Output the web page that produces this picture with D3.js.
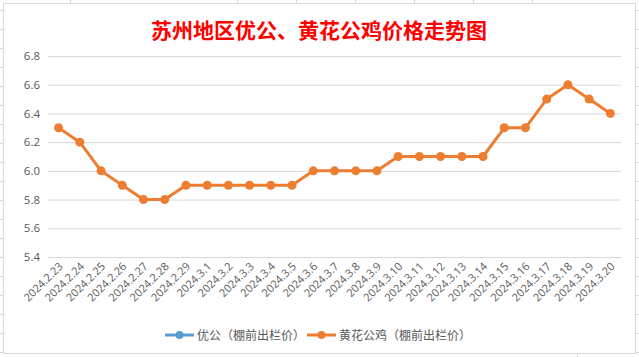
<!DOCTYPE html>
<html><head><meta charset="utf-8">
<script src="https://cdn.jsdelivr.net/npm/d3@7"></script>
<style>body{margin:0;background:#fff}svg{display:block}</style>
</head><body>
<svg id="c" width="639" height="357"></svg>
<script>
const title = "苏州地区优公、黄花公鸡价格走势图";
const categories = ["2024.2.23","2024.2.24","2024.2.25","2024.2.26","2024.2.27","2024.2.28","2024.2.29","2024.3.1","2024.3.2","2024.3.3","2024.3.4","2024.3.5","2024.3.6","2024.3.7","2024.3.8","2024.3.9","2024.3.10","2024.3.11","2024.3.12","2024.3.13","2024.3.14","2024.3.15","2024.3.16","2024.3.17","2024.3.18","2024.3.19","2024.3.20"];
const seriesNames = ["优公（棚前出栏价）","黄花公鸡（棚前出栏价）"];
const youGong = [];
const huangHua = [6.3,6.2,6.0,5.9,5.8,5.8,5.9,5.9,5.9,5.9,5.9,5.9,6.0,6.0,6.0,6.0,6.1,6.1,6.1,6.1,6.1,6.3,6.3,6.5,6.6,6.5,6.4];
const yTicks = [5.4,5.6,5.8,6.0,6.2,6.4,6.6,6.8];
const colors = ["#5B9BD5","#ED7D31"];

const svg = d3.select("#c");
const W = 639, H = 357;
// spreadsheet background lines
const bg = svg.append("g").attr("stroke","#d9d9d9").attr("stroke-width",1);
for (let y = 10; y < H; y += 19) {
  bg.append("line").attr("x1",0).attr("x2",3).attr("y1",y+0.5).attr("y2",y+0.5);
  bg.append("line").attr("x1",636).attr("x2",W).attr("y1",y+0.5).attr("y2",y+0.5);
}
[70,237,296,355,414,473,532].forEach(x=>bg.append("line").attr("x1",x+0.5).attr("x2",x+0.5).attr("y1",0).attr("y2",3));
[577].forEach(x=>bg.append("line").attr("x1",x+0.5).attr("x2",x+0.5).attr("y1",354).attr("y2",H));
svg.append("rect").attr("x",3.5).attr("y",3.5).attr("width",632).attr("height",350)
  .attr("fill","#fff").attr("stroke","#d9d9d9");

const x = d3.scaleBand().domain(categories).range([48,621]);
const y = d3.scaleLinear().domain([5.4,6.8]).range([257,56]);

// title
svg.append("text").attr("x",319).attr("y",38).attr("text-anchor","middle")
  .attr("font-family","'Noto Sans CJK SC'").attr("font-weight","bold").attr("font-size",21)
  .attr("fill","#FF0000").text(title);

// gridlines
const yAxis = d3.axisLeft(y).tickValues(yTicks).tickFormat(d3.format(".1f")).tickSize(-(621-48)).tickPadding(8);
const gy = svg.append("g").attr("transform","translate(48,0)").call(yAxis);
gy.select(".domain").remove();
gy.selectAll(".tick line").attr("stroke","#d9d9d9");
gy.selectAll(".tick text").attr("fill","#595959").attr("font-family","'Open Sans', sans-serif").attr("font-size",11.5).attr("x",-8);

// x axis
const xAxis = d3.axisBottom(x).tickSize(0).tickPadding(0);
const gx = svg.append("g").attr("transform","translate(0,257)").call(xAxis);
gx.select(".domain").attr("stroke","#d9d9d9");
gx.selectAll(".tick text").attr("fill","#595959").attr("font-family","'Open Sans', sans-serif").attr("font-size",11)
  .attr("text-anchor","end").attr("dy",0).attr("y",0)
  .attr("transform","translate(5,10) rotate(-45)");

// series
const cx = (d,i)=>x(categories[i])+x.bandwidth()/2;
const line = d3.line().x(cx).y(d=>y(d));
svg.append("path").datum(huangHua).attr("d",line).attr("fill","none")
  .attr("stroke",colors[1]).attr("stroke-width",3).attr("stroke-linejoin","round");
svg.append("g").selectAll("circle").data(huangHua).join("circle")
  .attr("cx",cx).attr("cy",d=>y(d)).attr("r",4.5).attr("fill",colors[1]);
if (youGong.length) {
  svg.append("path").datum(youGong).attr("d",line).attr("fill","none").attr("stroke",colors[0]).attr("stroke-width",3);
}

// legend
const leg = [{x:165,name:seriesNames[0],c:colors[0]},{x:307,name:seriesNames[1],c:colors[1]}];
leg.forEach(l=>{
  const g = svg.append("g");
  g.append("line").attr("x1",l.x).attr("x2",l.x+29).attr("y1",335).attr("y2",335).attr("stroke",l.c).attr("stroke-width",3);
  g.append("circle").attr("cx",l.x+14.5).attr("cy",335).attr("r",4).attr("fill",l.c);
  g.append("text").attr("x",l.x+32).attr("y",339.5).attr("fill","#595959")
    .attr("font-family","'Noto Sans CJK SC'").attr("font-size",12).text(l.name);
});
</script>
</body></html>
